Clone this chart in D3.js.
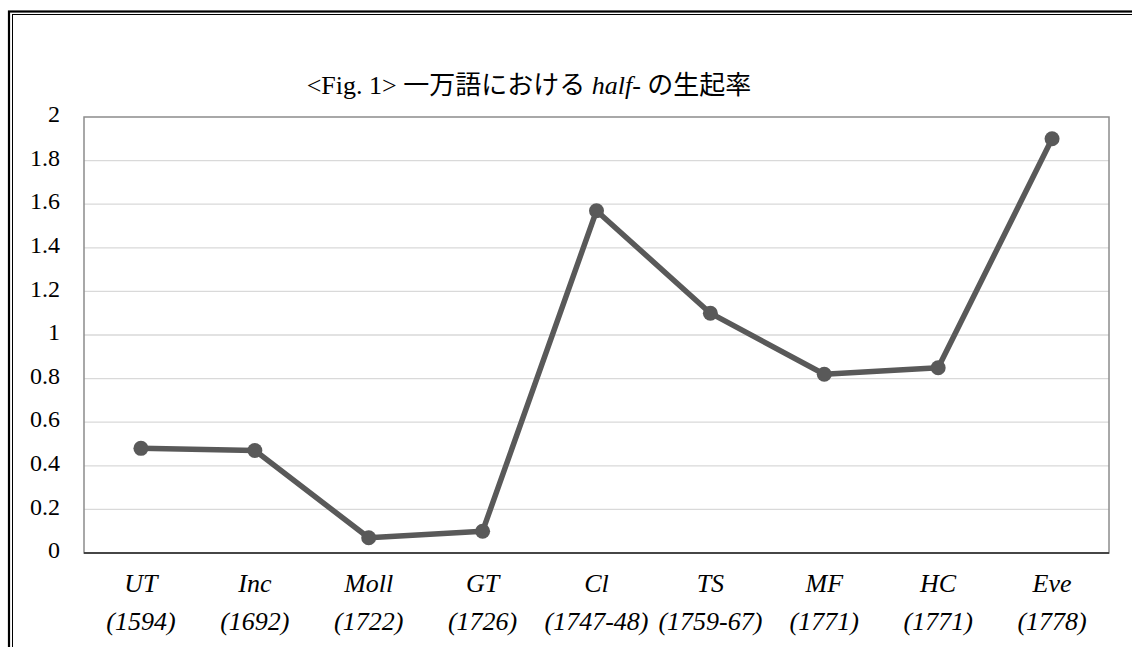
<!DOCTYPE html>
<html><head><meta charset="utf-8">
<script src="https://cdn.jsdelivr.net/npm/d3@7"></script>
<style>body{margin:0;background:#fff;}svg{display:block;}
text{font-family:"Liberation Serif","Noto Sans CJK JP",serif;}
</style>
</head><body>
<svg id="c" width="1132" height="647"></svg>
<script>
const categories = ["UT","Inc","Moll","GT","Cl","TS","MF","HC","Eve"];
const years = ["(1594)","(1692)","(1722)","(1726)","(1747-48)","(1759-67)","(1771)","(1771)","(1778)"];
const values = [0.48,0.47,0.07,0.10,1.57,1.10,0.82,0.85,1.90];
const yTicks = [0,0.2,0.4,0.6,0.8,1,1.2,1.4,1.6,1.8,2];

const svg = d3.select("#c");
const font = '"Liberation Serif","Noto Sans CJK JP",serif';
// frame
svg.append("rect").attr("x",9).attr("y",11.5).attr("width",1200).attr("height",800)
  .attr("fill","none").attr("stroke","#000").attr("stroke-width",2.2);
svg.append("rect").attr("x",12.5).attr("y",14.5).attr("width",1200).attr("height",800)
  .attr("fill","none").attr("stroke","#000").attr("stroke-width",1);

const L=84, R=1109, T=117, B=553;
const x = d3.scaleBand().domain(categories).range([L,R]);
const y = d3.scaleLinear().domain([0,2]).range([B,T]);

svg.append("g").selectAll("line").data(yTicks.filter(d=>d>0 && d<2)).join("line")
  .attr("x1",L).attr("x2",R).attr("y1",d=>y(d)).attr("y2",d=>y(d))
  .attr("stroke","#d9d9d9").attr("stroke-width",1.3);
svg.append("rect").attr("x",L).attr("y",T).attr("width",R-L).attr("height",B-T)
  .attr("fill","none").attr("stroke","#8c8c8c").attr("stroke-width",1.5);
svg.append("line").attr("x1",L).attr("x2",R).attr("y1",B).attr("y2",B)
  .attr("stroke","#262626").attr("stroke-width",1.5);

const yAxis = d3.axisLeft(y).tickValues(yTicks).tickSize(0).tickPadding(0).tickFormat(d=>String(d));
const ya = svg.append("g").attr("transform",`translate(60,-3)`).call(yAxis);
ya.select(".domain").remove();
ya.attr("font-family",null).attr("font-size",null);
ya.selectAll("text").style("font-family",font).style("font-size","24px").attr("fill","#000");

const xa = svg.append("g");
xa.selectAll("text.cat").data(categories).join("text").attr("class","cat")
  .attr("x",d=>x(d)+x.bandwidth()/2).attr("y",592)
  .attr("text-anchor","middle").style("font-family",font).style("font-style","italic")
  .style("font-size","26px").text(d=>d);
xa.selectAll("text.yr").data(years).join("text").attr("class","yr")
  .attr("x",(d,i)=>x(categories[i])+x.bandwidth()/2).attr("y",630)
  .attr("text-anchor","middle").style("font-family",font).style("font-style","italic")
  .style("font-size","26px").text(d=>d);

const data = categories.map((c,i)=>({c,v:values[i]}));
const line = d3.line().x(d=>x(d.c)+x.bandwidth()/2).y(d=>y(d.v));
svg.append("path").datum(data).attr("d",line).attr("fill","none")
  .attr("stroke","#595959").attr("stroke-width",5.5).attr("stroke-linejoin","round");
svg.append("g").selectAll("circle").data(data).join("circle")
  .attr("cx",d=>x(d.c)+x.bandwidth()/2).attr("cy",d=>y(d.v)).attr("r",7.5)
  .attr("fill","#595959");

const t = svg.append("text").attr("x",529).attr("y",94).attr("text-anchor","middle")
  .style("font-family",font).style("font-size","26px").attr("fill","#000");
t.append("tspan").text("<Fig. 1> 一万語における ");
t.append("tspan").style("font-style","italic").text("half-");
t.append("tspan").text(" の生起率");
</script>
</body></html>
